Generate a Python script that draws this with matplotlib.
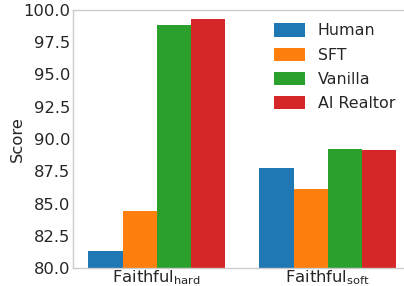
import matplotlib.pyplot as plt
import numpy as np

categories = ['Faithful$_{\\mathrm{hard}}$', 'Faithful$_{\\mathrm{soft}}$']
methods = ['Human', 'SFT', 'Vanilla', 'AI Realtor']
scores = {
    'Human': [81.35, 87.75],
    'SFT': [84.45, 86.1],
    'Vanilla': [98.87, 89.2],
    'AI Realtor': [99.27, 89.13],
}
colors = ['#1f77b4', '#ff7f0e', '#2ca02c', '#d62728']
yticks = [80.0, 82.5, 85.0, 87.5, 90.0, 92.5, 95.0, 97.5, 100.0]

plt.rcParams['font.family'] = ['DejaVu Sans']
plt.rcParams['mathtext.fontset'] = 'dejavusans'
fs = 11.8

W, H = 404, 286
fig = plt.figure(figsize=(W / 100, H / 100), dpi=100)
# axes runs off the right edge like the cropped original
ax = fig.add_axes([73 / W, 18 / H, 360 / W, 258 / H])

x = np.arange(len(categories))
width = 0.2
for i, m in enumerate(methods):
    ax.bar(x + (i - 1.5) * width, scores[m], width, color=colors[i], label=m)

# 171 px per group unit
ax.set_xlim(-0.49, -0.49 + 360 / 171)
ax.set_ylim(80, 100)
ax.set_yticks(yticks)
ax.set_yticklabels([f'{v:.1f}' for v in yticks], fontsize=fs, color='#262626')
ax.set_xticks(x)
ax.set_xticklabels(categories, fontsize=fs, color='#262626')
ax.tick_params(axis='y', length=0, pad=2)
ax.tick_params(axis='x', length=0, pad=0)
ax.set_ylabel('Score', fontsize=fs, color='#262626', labelpad=-1)

for s in ax.spines.values():
    s.set_color('#cccccc')
    s.set_linewidth(1.0)
ax.spines['right'].set_visible(False)

leg = ax.legend(loc='upper left', bbox_to_anchor=(0.642, 0.968),
                bbox_transform=fig.transFigure, frameon=False,
                fontsize=11.4, handlelength=2.0, handleheight=0.9,
                labelspacing=0.58, handletextpad=0.8)
for t in leg.get_texts():
    t.set_color('#262626')

fig.savefig('out.png', dpi=100)
